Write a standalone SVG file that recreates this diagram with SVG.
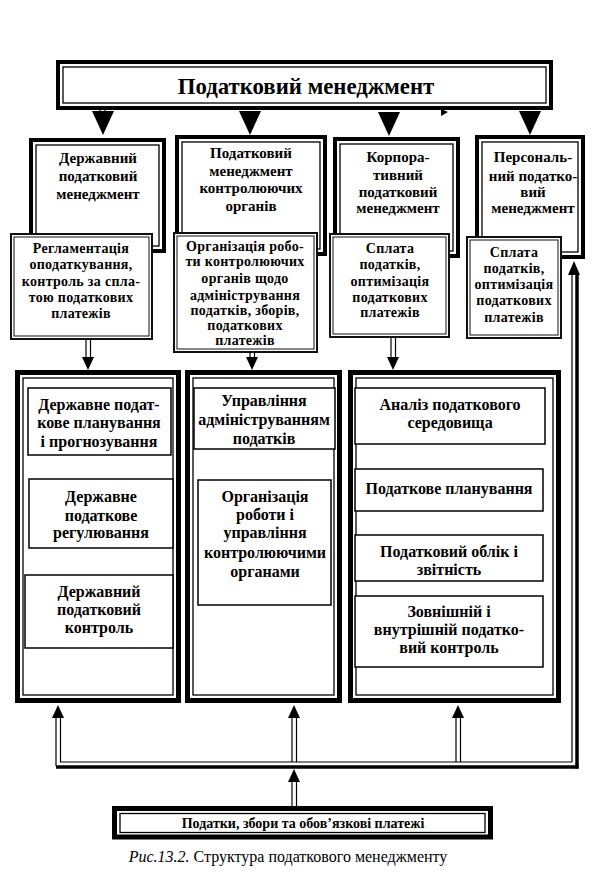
<svg xmlns="http://www.w3.org/2000/svg" width="600" height="879" viewBox="0 0 600 879">
<style>
  text { font-family: "Liberation Serif", "Times New Roman", serif; font-weight: bold; fill: #000; text-anchor: middle; }
  .h { font-size: 22.8px; }
  .t2 { font-size: 15px; }
  .t3 { font-size: 14px; letter-spacing: 0.3px; }
  .t4 { font-size: 16px; }
  .tb { font-size: 14px; }
  .cap { font-size: 16px; font-weight: normal; }
  .ko { fill: #fff; stroke: #000; stroke-width: 4; }
  .kb { fill: #fff; stroke: #000; stroke-width: 5; }
  .ki { fill: none; stroke: #000; stroke-width: 1.3; }
  .do { fill: #fff; stroke: #111; stroke-width: 2; }
  .di { fill: none; stroke: #111; stroke-width: 1; }
  .s { fill: #fff; stroke: #000; stroke-width: 1.5; }
  .sh { stroke: #000; stroke-width: 1.2; fill: none; }
  .thick { stroke: #000; stroke-width: 3.5; fill: none; }
</style>
<defs>
  <path id="ahd" d="M-6,0 L6,0 L0,13 Z" fill="#000"/>
  <path id="ahu" d="M-6,0 L6,0 L0,-13 Z" fill="#000"/>
  <path id="big" d="M-11,0 L11,0 L0,24 Z" fill="#000"/>
</defs>
<rect width="600" height="879" fill="#fff"/>

<g id="header">
  <rect class="ko" x="58" y="62" width="493" height="46"/>
  <rect class="ki" x="63" y="67" width="483" height="36"/>
  <text class="h" x="306" y="94">Податковий менеджмент</text>
</g>

<g id="state-mgmt">
  <rect class="ko" x="31" y="140" width="133" height="111"/>
  <rect class="ki" x="36" y="145" width="123" height="101"/>
  <text class="t2" x="98" y="163">Державний</text>
  <text class="t2" x="98" y="181">податковий</text>
  <text class="t2" x="98" y="199">менеджмент</text>
</g>
<g id="control-mgmt">
  <rect class="ko" x="177" y="137" width="148" height="117"/>
  <rect class="ki" x="182" y="142" width="138" height="107"/>
  <text class="t2" x="251" y="158">Податковий</text>
  <text class="t2" x="251" y="176">менеджмент</text>
  <text class="t2" x="251" y="193">контролюючих</text>
  <text class="t2" x="251" y="211">органів</text>
</g>
<g id="corp-mgmt">
  <rect class="ko" x="335" y="139" width="123" height="117"/>
  <rect class="ki" x="340" y="144" width="113" height="107"/>
  <text class="t2" x="398" y="162">Корпора-</text>
  <text class="t2" x="398" y="180">тивний</text>
  <text class="t2" x="398" y="197">податковий</text>
  <text class="t2" x="398" y="213">менеджмент</text>
</g>
<g id="pers-mgmt">
  <rect class="ko" x="477" y="137" width="106" height="120"/>
  <rect class="ki" x="482" y="142" width="96" height="110"/>
  <text class="t2" x="533" y="162">Персональ-</text>
  <text class="t2" x="533" y="181">ний податко-</text>
  <text class="t2" x="533" y="197">вий</text>
  <text class="t2" x="533" y="213">менеджмент</text>
</g>

<g id="state-func">
  <rect class="do" x="11" y="234" width="141" height="105"/>
  <rect class="di" x="14" y="237" width="135" height="99"/>
  <text class="t3" x="81" y="253">Регламентація</text>
  <text class="t3" x="81" y="269">оподаткування,</text>
  <text class="t3" x="81" y="286">контроль за спла-</text>
  <text class="t3" x="81" y="302">тою податкових</text>
  <text class="t3" x="81" y="318">платежів</text>
</g>
<g id="control-func">
  <rect class="do" x="174" y="233" width="143" height="119"/>
  <rect class="di" x="177" y="236" width="137" height="113"/>
  <text class="t3" x="245" y="251">Організація робо-</text>
  <text class="t3" x="245" y="266">ти контролюючих</text>
  <text class="t3" x="245" y="283">органів щодо</text>
  <text class="t3" x="245" y="300">адміністрування</text>
  <text class="t3" x="245" y="315">податків, зборів,</text>
  <text class="t3" x="245" y="330">податкових</text>
  <text class="t3" x="245" y="345">платежів</text>
</g>
<g id="corp-func">
  <rect class="do" x="330" y="234" width="119" height="103"/>
  <rect class="di" x="333" y="237" width="113" height="97"/>
  <text class="t3" x="390" y="253">Сплата</text>
  <text class="t3" x="390" y="269">податків,</text>
  <text class="t3" x="390" y="286">оптимізація</text>
  <text class="t3" x="390" y="302">податкових</text>
  <text class="t3" x="390" y="317">платежів</text>
</g>
<g id="pers-func">
  <rect class="do" x="467" y="237" width="94" height="101"/>
  <rect class="di" x="470" y="240" width="88" height="95"/>
  <text class="t3" x="514" y="257">Сплата</text>
  <text class="t3" x="514" y="273">податків,</text>
  <text class="t3" x="514" y="289">оптимізація</text>
  <text class="t3" x="514" y="305">податкових</text>
  <text class="t3" x="514" y="322">платежів</text>
</g>

<g id="state-block">
  <rect class="kb" x="17.5" y="372.5" width="161" height="328"/>
  <rect class="ki" x="23" y="378" width="150" height="317"/>
  <g id="state-planning">
    <rect class="s" x="28" y="388" width="143" height="67"/>
    <text class="t4" x="99" y="410">Державне подат-</text>
    <text class="t4" x="99" y="428">кове планування</text>
    <text class="t4" x="99" y="447">і прогнозування</text>
  </g>
  <g id="state-regulation">
    <rect class="s" x="29" y="479" width="144" height="69"/>
    <text class="t4" x="101" y="502">Державне</text>
    <text class="t4" x="101" y="521">податкове</text>
    <text class="t4" x="101" y="538">регулювання</text>
  </g>
  <g id="state-control">
    <rect class="s" x="25" y="575" width="148" height="73"/>
    <text class="t4" x="99" y="597">Державний</text>
    <text class="t4" x="99" y="615">податковий</text>
    <text class="t4" x="99" y="633">контроль</text>
  </g>
</g>

<g id="control-block">
  <rect class="kb" x="187.5" y="372.5" width="152" height="328"/>
  <rect class="ki" x="193" y="378" width="141" height="317"/>
  <g id="admin">
    <rect class="s" x="194" y="388" width="141" height="61"/>
    <text class="t4" x="264" y="406">Управління</text>
    <text class="t4" x="264" y="425">адмініструванням</text>
    <text class="t4" x="264" y="444">податків</text>
  </g>
  <g id="organization">
    <rect class="s" x="198" y="480" width="133" height="125"/>
    <text class="t4" x="265" y="502">Організація</text>
    <text class="t4" x="265" y="520">роботи і</text>
    <text class="t4" x="265" y="538">управління</text>
    <text class="t4" x="265" y="558">контролюючими</text>
    <text class="t4" x="265" y="577">органами</text>
  </g>
</g>

<g id="corp-block">
  <rect class="kb" x="350.5" y="372.5" width="208" height="328"/>
  <rect class="ki" x="356" y="378" width="197" height="317"/>
  <g id="analysis">
    <rect class="s" x="355" y="388" width="190" height="56"/>
    <text class="t4" x="450" y="410">Аналіз податкового</text>
    <text class="t4" x="450" y="428">середовища</text>
  </g>
  <g id="planning">
    <rect class="s" x="355" y="469" width="188" height="42"/>
    <text class="t4" x="449" y="494">Податкове планування</text>
  </g>
  <g id="accounting">
    <rect class="s" x="355" y="535" width="188" height="46"/>
    <text class="t4" x="449" y="557">Податковий облік і</text>
    <text class="t4" x="449" y="575">звітність</text>
  </g>
  <g id="audit">
    <rect class="s" x="355" y="596" width="188" height="71"/>
    <text class="t4" x="449" y="617">Зовнішній і</text>
    <text class="t4" x="449" y="635">внутрішній податко-</text>
    <text class="t4" x="449" y="653">вий контроль</text>
  </g>
</g>

<g id="taxes">
  <rect class="kb" x="114.5" y="808.5" width="376" height="28.5"/>
  <rect class="ki" x="120" y="813.5" width="365" height="19"/>
  <text class="tb" x="303" y="828">Податки, збори та обов’язкові платежі</text>
</g>

<g id="connectors">
  <line class="sh" x1="100" y1="108" x2="100" y2="113"/>
  <line class="sh" x1="105" y1="108" x2="105" y2="113"/>
  <use href="#big" x="103" y="111"/>
  <use href="#big" x="250" y="111"/>
  <use href="#big" x="389" y="112"/>
  <use href="#big" x="530" y="111"/>
  <path d="M441,109 L448,112 L441,116 Z" fill="#000"/>
  <line class="sh" x1="86" y1="339" x2="86" y2="357"/>
  <line class="sh" x1="90.5" y1="339" x2="90.5" y2="357"/>
  <use href="#ahd" x="88" y="357"/>
  <line class="sh" x1="250" y1="352" x2="250" y2="358"/>
  <line class="sh" x1="254.5" y1="352" x2="254.5" y2="358"/>
  <use href="#ahd" x="252" y="357"/>
  <line class="sh" x1="391" y1="337" x2="391" y2="357"/>
  <line class="sh" x1="395.5" y1="337" x2="395.5" y2="357"/>
  <use href="#ahd" x="393" y="357"/>
  <line class="sh" x1="60" y1="762" x2="572" y2="762"/>
  <line class="thick" x1="56" y1="767" x2="578.5" y2="767"/>
  <line class="sh" x1="572" y1="762" x2="572" y2="275"/>
  <line class="thick" x1="577" y1="768.5" x2="577" y2="275"/>
  <path d="M568,275 L580,275 L574,261 Z" fill="#000"/>
  <line class="sh" x1="56" y1="766" x2="56" y2="717"/>
  <line class="sh" x1="60.5" y1="762" x2="60.5" y2="717"/>
  <use href="#ahu" x="58" y="718"/>
  <line class="sh" x1="292" y1="762" x2="292" y2="717"/>
  <line class="sh" x1="296.5" y1="762" x2="296.5" y2="717"/>
  <use href="#ahu" x="294" y="718"/>
  <line class="sh" x1="456" y1="762" x2="456" y2="717"/>
  <line class="sh" x1="460.5" y1="762" x2="460.5" y2="717"/>
  <use href="#ahu" x="458" y="718"/>
  <line class="sh" x1="292" y1="806" x2="292" y2="778"/>
  <line class="sh" x1="296.5" y1="806" x2="296.5" y2="778"/>
  <use href="#ahu" x="294" y="782"/>
</g>

<text class="cap" x="288" y="862"><tspan font-style="italic">Рис.13.2.</tspan> Структура податкового менеджменту</text>
</svg>
